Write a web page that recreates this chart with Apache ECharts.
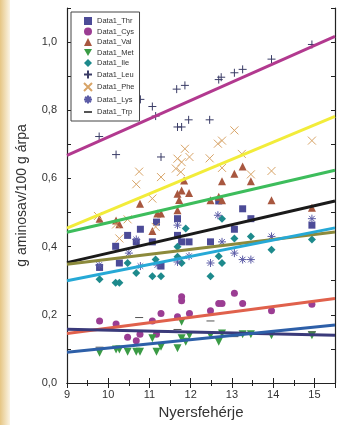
<!DOCTYPE html>
<html>
<head>
<meta charset="utf-8">
<script src="https://cdn.jsdelivr.net/npm/echarts@6/dist/echarts.min.js"></script>
<style>
html, body { margin: 0; padding: 0; background: #fff; }
#chart { width: 347px; height: 425px; }
</style>
</head>
<body>
<div id="chart"></div>
<script>
// pontok: [nyersfeherje, g aminosav/100 g arpa]
var thr = [[9.79,0.339],[10.18,0.401],[10.27,0.352],[10.47,0.433],[10.68,0.414],[10.78,0.451],[11.07,0.414],[11.17,0.472],[11.28,0.343],[11.68,0.482],[11.68,0.433],[11.78,0.414],[11.96,0.414],[12.48,0.414],[12.68,0.534],[13.06,0.451],[13.26,0.511],[13.46,0.482],[14.94,0.463]];
var cys = [[9.79,0.182],[10.19,0.173],[10.47,0.134],[10.68,0.124],[10.77,0.143],[11.07,0.182],[11.17,0.143],[11.28,0.204],[11.68,0.194],[11.78,0.253],[11.78,0.241],[11.97,0.204],[12.48,0.212],[12.68,0.233],[12.76,0.233],[13.06,0.263],[13.26,0.233],[13.96,0.212],[14.94,0.231]];
var val = [[9.79,0.482],[10.19,0.477],[10.27,0.466],[10.77,0.526],[11.07,0.446],[11.19,0.497],[11.28,0.497],[11.68,0.507],[11.68,0.555],[11.72,0.537],[11.78,0.565],[11.84,0.594],[11.96,0.557],[12.48,0.536],[12.68,0.546],[12.76,0.536],[12.76,0.592],[13.06,0.614],[13.26,0.635],[13.46,0.592],[13.96,0.536],[14.94,0.514]];
var met = [[9.79,0.089],[10.19,0.098],[10.27,0.098],[10.47,0.092],[10.68,0.092],[10.77,0.092],[11.07,0.131],[11.17,0.092],[11.28,0.106],[11.68,0.102],[11.78,0.18],[11.78,0.131],[11.88,0.121],[11.97,0.14],[12.48,0.14],[12.68,0.121],[12.76,0.145],[13.26,0.143],[13.46,0.143],[13.96,0.14],[14.94,0.14]];
var ile = [[9.79,0.304],[10.18,0.294],[10.27,0.294],[10.47,0.352],[10.68,0.323],[11.07,0.313],[11.15,0.362],[11.28,0.313],[11.68,0.4],[11.68,0.37],[11.78,0.352],[11.88,0.453],[12.48,0.313],[12.68,0.372],[12.76,0.352],[12.76,0.482],[13.06,0.424],[13.46,0.43],[13.96,0.391],[14.94,0.421]];
var leu = [[9.78,0.723],[10.19,0.67],[10.27,0.782],[10.78,0.832],[11.07,0.811],[11.15,0.783],[11.28,0.663],[11.66,0.862],[11.86,0.873],[11.68,0.751],[11.78,0.751],[11.95,0.772],[12.46,0.772],[12.68,0.89],[12.74,0.897],[13.06,0.91],[13.26,0.92],[13.96,0.95],[14.94,0.993]];
var phe = [[9.75,0.49],[10.19,0.465],[10.27,0.424],[10.47,0.48],[10.68,0.583],[10.75,0.62],[11.07,0.541],[11.15,0.458],[11.28,0.604],[11.64,0.629],[11.68,0.658],[11.76,0.619],[11.78,0.648],[11.86,0.687],[11.97,0.663],[12.46,0.659],[12.66,0.702],[12.76,0.711],[12.76,0.631],[13.06,0.741],[13.24,0.672],[13.46,0.612],[13.96,0.622],[14.94,0.711]];
var lys = [[9.78,0.346],[10.5,0.381],[10.68,0.421],[10.78,0.343],[11.19,0.346],[11.68,0.463],[11.68,0.355],[11.96,0.372],[12.48,0.352],[12.66,0.492],[12.76,0.414],[13.06,0.381],[13.26,0.362],[13.46,0.362],[13.96,0.43],[14.94,0.482]];
var trp = [[9.79,0.105],[10.75,0.192],[11.28,0.15],[11.68,0.157],[12.48,0.182],[13.06,0.136],[14.94,0.15]];

// illesztett egyenesek (x = 9 es 15,5 vegpontokban)
var fitX = [9, 15.5];
var fitLeft  = [0.668, 0.454, 0.442, 0.353, 0.348, 0.300, 0.145, 0.158, 0.090];
var fitRight = [1.017, 0.782, 0.624, 0.534, 0.443, 0.455, 0.248, 0.140, 0.170];
var fitColors = ['#b2398f', '#f2ec3a', '#3dbd5c', '#1a1a1a', '#8c8a3c', '#26a9d6', '#e0614c', '#3a3a7a', '#2d5fa8'];

var names = ['Data1_Thr', 'Data1_Cys', 'Data1_Val', 'Data1_Met', 'Data1_Ile', 'Data1_Leu', 'Data1_Phe', 'Data1_Lys', 'Data1_Trp'];
var pointData = [thr, cys, val, met, ile, leu, phe, lys, trp];
var pointColors = ['#4c4b97', '#9b3d93', '#a8573f', '#3a9b45', '#1d8a8c', '#3a3c66', '#d8a467', '#5b5ba6', '#555555'];
var symbols = [
    'rect',
    'circle',
    'triangle',
    'path://M0,0H10L5,9Z',
    'diamond',
    'path://M5,0V10M0,5H10',
    'path://M0,0L10,10M10,0L0,10',
    'path://M5,0V10M0,5H10M1.5,1.5L8.5,8.5M8.5,1.5L1.5,8.5',
    'path://M0,0M0,5H10M10,10'
];
var sizes = [7, 7, 8, 8, 8, 8, 8, 8, 8];
var stroked = [false, false, false, false, false, true, true, true, true];

var chart = echarts.init(document.getElementById('chart'));

var series = [];
for (var i = 0; i < names.length; i++) {
    series.push({
        name: names[i],
        type: 'scatter',
        data: pointData[i],
        symbol: symbols[i],
        symbolSize: sizes[i],
        itemStyle: {
            color: pointColors[i],
            borderColor: pointColors[i],
            borderWidth: stroked[i] ? 1 : 0,
            opacity: 1
        },
        z: 2
    });
}
for (var j = 0; j < fitLeft.length; j++) {
    series.push({
        type: 'line',
        data: [[fitX[0], fitLeft[j]], [fitX[1], fitRight[j]]],
        showSymbol: false,
        symbol: 'none',
        lineStyle: { color: fitColors[j], width: 3 },
        z: 3
    });
}

function fmtY(v) {
    var k = Math.round(v * 10);
    if (Math.abs(v * 10 - k) > 1e-6 || k % 2 !== 0) return '';
    return (k / 10).toFixed(1).replace('.', ',');
}
function fmtX(v) {
    if (Math.abs(v - Math.round(v)) > 1e-6) return '';
    return String(Math.round(v));
}

var axisLine = { lineStyle: { color: '#222', width: 1.2 } };
var option = {
    animation: false,
    backgroundColor: '#ffffff',
    textStyle: { fontFamily: 'Liberation Sans' },
    graphic: [{
        type: 'rect',
        left: 0, top: 0,
        shape: { width: 10, height: 425 },
        style: {
            fill: new echarts.graphic.LinearGradient(0, 0, 1, 0, [
                { offset: 0, color: '#e6c684' },
                { offset: 1, color: '#fbf4e4' }
            ])
        },
        z: -10
    }],
    grid: { left: 67, right: 12, top: 8, bottom: 42, containLabel: false },
    legend: {
        data: names,
        orient: 'vertical',
        left: 71,
        top: 12,
        itemWidth: 8,
        itemHeight: 8,
        itemGap: 2.5,
        borderColor: '#444',
        borderWidth: 1,
        borderRadius: 0,
        padding: [5, 5, 4, 12],
        backgroundColor: '#fff',
        textStyle: { fontSize: 7.5, color: '#333', fontFamily: 'Liberation Sans' }
    },
    xAxis: [{
        type: 'value',
        min: 9,
        max: 15.5,
        interval: 1,
        name: 'Nyersfehérje',
        nameLocation: 'middle',
        nameGap: 19,
        nameTextStyle: { fontSize: 15, color: '#333' },
        axisLine: axisLine,
        axisTick: { inside: true, length: 5, lineStyle: { color: '#222' } },
        minorTick: { show: true, splitNumber: 2, length: 3, lineStyle: { color: '#222' } },
        axisLabel: { formatter: fmtX, fontSize: 11, color: '#333', margin: 6 },
        splitLine: { show: false }
    }, {
        type: 'value',
        position: 'top',
        min: 9,
        max: 15.5,
        interval: 1,
        axisLine: axisLine,
        axisTick: { inside: true, length: 5, lineStyle: { color: '#222' } },
        minorTick: { show: true, splitNumber: 2, length: 3, lineStyle: { color: '#222' } },
        axisLabel: { show: false },
        splitLine: { show: false }
    }],
    yAxis: [{
        type: 'value',
        min: 0,
        max: 1.1,
        interval: 0.1,
        name: 'g aminosav/100 g árpa',
        nameLocation: 'middle',
        nameGap: 38,
        nameTextStyle: { fontSize: 14, color: '#333' },
        axisLine: axisLine,
        axisTick: { inside: true, length: 4, lineStyle: { color: '#222' } },
        axisLabel: { formatter: fmtY, fontSize: 11, color: '#333', margin: 10 },
        splitLine: { show: false }
    }, {
        type: 'value',
        position: 'right',
        min: 0,
        max: 1.1,
        interval: 0.1,
        axisLine: axisLine,
        axisTick: { inside: true, length: 4, lineStyle: { color: '#222' } },
        axisLabel: { show: false },
        splitLine: { show: false }
    }],
    series: series
};
chart.setOption(option);
</script>
</body>
</html>
